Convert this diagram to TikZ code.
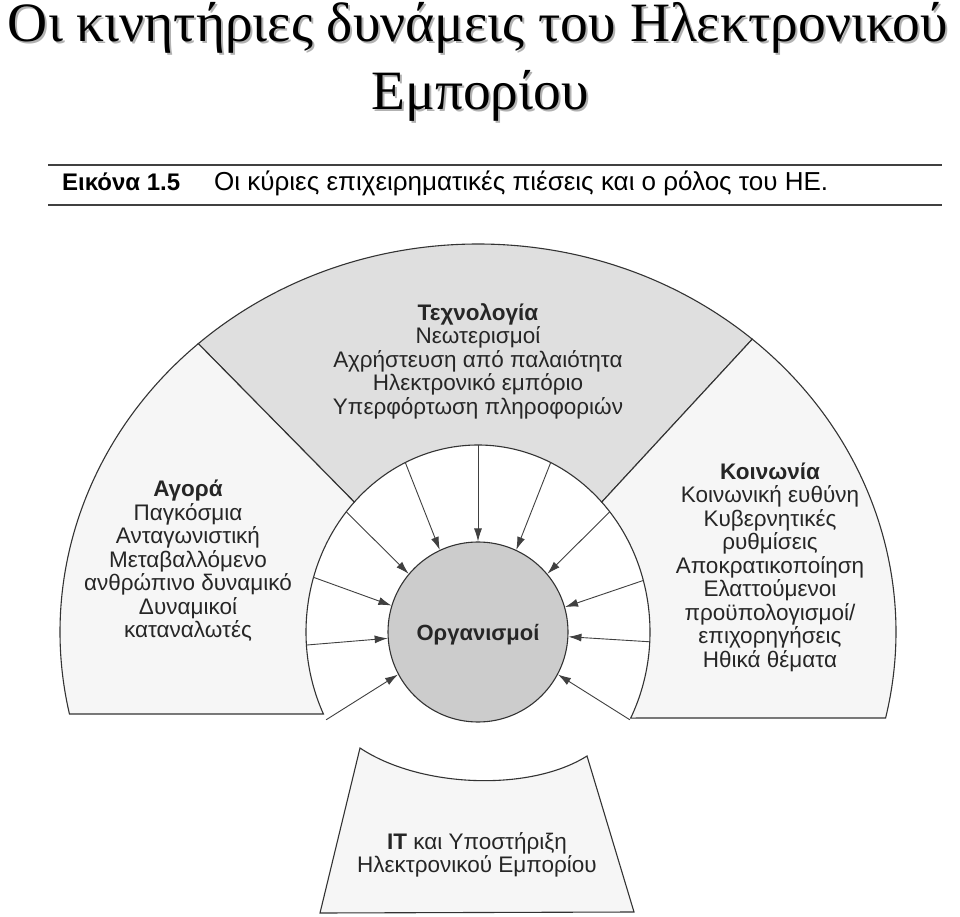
\documentclass[tikz,border=0pt]{standalone}
\usepackage{fontspec}
\setmainfont{Liberation Serif}
\newfontfamily\sansf{Liberation Sans}
\usetikzlibrary{calc,arrows.meta}
\begin{document}
\begin{tikzpicture}[x=1pt,y=1pt,
  sect/.style={draw=black!80,line width=1.1pt},
  lbl/.style={font=\sansf\fontsize{22.5}{23.5}\selectfont,align=center,text=black!85},
  arr/.style={draw=black!75,line width=0.9pt,-{Latex[length=13pt,width=8pt]}},
  ttl/.style={font=\fontsize{55.5}{64}\selectfont,anchor=base}]
\useasboundingbox (0,0) rectangle (960,916);
\fill[white] (0,0) rectangle (960,916);
\coordinate (c) at (478,284);
% title
\node[ttl,text=gray!60] (t1s) at (480,872) {Οι κινητήριες δυνάμεις του Ηλεκτρονικού};
\node[ttl] (t1) at (478,874) {Οι κινητήριες δυνάμεις του Ηλεκτρονικού};
\node[ttl,text=gray!60] (t2s) at (482,804) {Εμπορίου};
\node[ttl] (t2) at (480,806) {Εμπορίου};
% caption
\draw[line width=1.6pt,black!75] (48,751) -- (942,751);
\draw[line width=1.6pt,black!75] (48,711) -- (942,711);
\node[font=\sansf\fontsize{24}{26}\selectfont\bfseries,anchor=base west,inner sep=0pt] (cap1) at (62,725) {Εικόνα 1.5};
\node[font=\sansf\fontsize{26}{28}\selectfont,anchor=base west,inner sep=0pt] (cap2) at (214,725) {Οι κύριες επιχειρηματικές πιέσεις και ο ρόλος του ΗΕ.};
% sectors
\filldraw[sect,fill=gray!25] ($(c)+(132:418pt and 388pt)$) arc[start angle=132,end angle=49,x radius=418pt,y radius=388pt]
  -- ($(c)+(44:172pt and 187pt)$) arc[start angle=44,end angle=136,x radius=172pt,y radius=187pt] -- cycle;
\filldraw[sect,fill=gray!7] ($(c)+(132:418pt and 388pt)$) arc[start angle=132,end angle=192.2,x radius=418pt,y radius=388pt]
  -- ($(c)+(206:172pt and 187pt)$) arc[start angle=206,end angle=136,x radius=172pt,y radius=187pt] -- cycle;
\filldraw[sect,fill=gray!7] ($(c)+(49:418pt and 388pt)$) arc[start angle=49,end angle=-12.8,x radius=418pt,y radius=388pt]
  -- ($(c)+(-27.4:172pt and 187pt)$) arc[start angle=-27.4,end angle=44,x radius=172pt,y radius=187pt] -- cycle;
% organisation
\node[circle,draw=black!80,line width=1.1pt,fill=gray!40,minimum size=180pt,inner sep=0pt] (org) at (c) {};
\node[font=\sansf\fontsize{22}{24}\selectfont\bfseries,text=black!85] (orgt) at (478,281) {Οργανισμοί};
\foreach \a in {208,184,163,140,115,90,65,40,16,-3,-28}
  \draw[arr] ($(c)+(\a:172pt and 187pt)$) -- (org.\a);
% texts
\node[lbl] (tech) at (478,555) {\textbf{Τεχνολογία}\\Νεωτερισμοί\\Αχρήστευση από παλαιότητα\\Ηλεκτρονικό εμπόριο\\Υπερφόρτωση πληροφοριών};
\node[lbl] (agora) at (188,355) {\textbf{Αγορά}\\Παγκόσμια\\Ανταγωνιστική\\Μεταβαλλόμενο\\ανθρώπινο δυναμικό\\Δυναμικοί\\καταναλωτές};
\node[lbl] (koin) at (770,349) {\textbf{Κοινωνία}\\Κοινωνική ευθύνη\\Κυβερνητικές\\ρυθμίσεις\\Αποκρατικοποίηση\\Ελαττούμενοι\\προϋπολογισμοί/\\επιχορηγήσεις\\Ηθικά θέματα};
% IT
\filldraw[sect,fill=gray!7] (360,168) .. controls (420,128) and (530,124) .. (587,160) -- (634,4) -- (320,3) -- cycle;
\node[lbl] (it) at (477,61) {\textbf{IT} και Υποστήριξη\\Ηλεκτρονικού Εμπορίου};
\end{tikzpicture}
\end{document}
